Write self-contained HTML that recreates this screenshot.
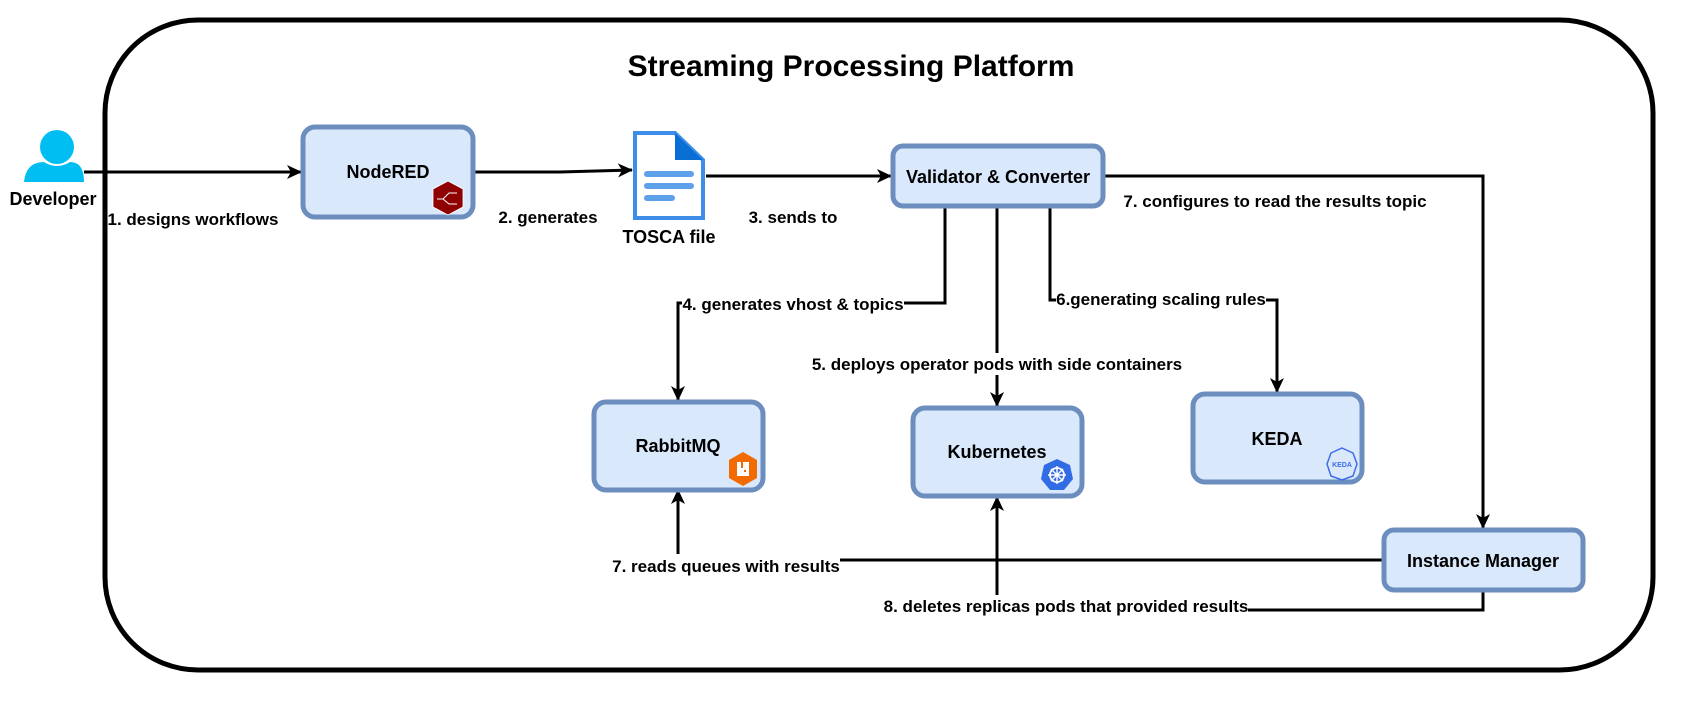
<!DOCTYPE html>
<html><head><meta charset="utf-8"><style>
html,body{margin:0;padding:0;background:#fff;}
svg{display:block;}
text{font-family:"Liberation Sans",Arial,sans-serif;font-weight:bold;fill:#000;}
.lbl{font-size:17px;}
.box{fill:#dae8fc;stroke:#6c8ebf;stroke-width:5;}
.bt{font-size:18px;}
.ln{fill:none;stroke:#000;stroke-width:3;}
</style></head><body>
<svg width="1691" height="712" viewBox="0 0 1691 712" xmlns="http://www.w3.org/2000/svg">
<defs>
<marker id="a" markerWidth="15" markerHeight="14" refX="14" refY="7" orient="auto" markerUnits="userSpaceOnUse">
<path d="M0,0 L15,7 L0,14 L4,7 Z" fill="#000"/>
</marker>
</defs>
<rect x="105" y="20" width="1548" height="650" rx="93" ry="93" fill="none" stroke="#000" stroke-width="5"/>
<text x="851" y="76" font-size="30" text-anchor="middle">Streaming Processing Platform</text>

<circle cx="57" cy="147" r="17" fill="#00bef2"/>
<path d="M24,182 Q26,162 44,162 Q57,170 70,162 Q84,162 84,182 Z" fill="#00bef2"/>
<text x="53" y="205" font-size="18" text-anchor="middle">Developer</text>

<path class="ln" d="M84,172 L301,172" marker-end="url(#a)"/>
<text class="lbl" x="193" y="225" text-anchor="middle">1. designs workflows</text>
<path class="ln" d="M475,172 L560,172 L632,170" marker-end="url(#a)"/>
<text class="lbl" x="548" y="223" text-anchor="middle">2. generates</text>
<path class="ln" d="M706,176 L891,176" marker-end="url(#a)"/>
<text class="lbl" x="793" y="223" text-anchor="middle">3. sends to</text>
<path class="ln" d="M1104,176 L1483,176 L1483,528" marker-end="url(#a)"/>
<text class="lbl" x="1275" y="207" text-anchor="middle">7. configures to read the results topic</text>
<path class="ln" d="M945,207 L945,303 L678,303 L678,400" marker-end="url(#a)"/>
<rect x="682" y="292" width="222" height="22" fill="#fff"/>
<text class="lbl" x="793" y="310" text-anchor="middle">4. generates vhost &amp; topics</text>
<path class="ln" d="M997,207 L997,406" marker-end="url(#a)"/>
<rect x="812" y="353" width="372" height="22" fill="#fff"/>
<text class="lbl" x="997" y="370" text-anchor="middle">5. deploys operator pods with side containers</text>
<path class="ln" d="M1050,207 L1050,300 L1277,300 L1277,392" marker-end="url(#a)"/>
<rect x="1056" y="289" width="210" height="22" fill="#fff"/>
<text class="lbl" x="1161" y="305" text-anchor="middle">6.generating scaling rules</text>
<path class="ln" d="M1382,560 L678,560 L678,490" marker-end="url(#a)"/>
<rect x="612" y="554" width="228" height="22" fill="#fff"/>
<text class="lbl" x="726" y="572" text-anchor="middle">7. reads queues with results</text>
<path class="ln" d="M1483,592 L1483,610 L997,610 L997,497" marker-end="url(#a)"/>
<rect x="882" y="595" width="366" height="22" fill="#fff"/>
<text class="lbl" x="1066" y="612" text-anchor="middle">8. deletes replicas pods that provided results</text>

<rect class="box" x="303" y="127" width="170" height="90" rx="12"/>
<text class="bt" x="388" y="178" text-anchor="middle">NodeRED</text>
<polygon points="448,181 463,189 463,207 448,215 433,207 433,189" fill="#8f0000" stroke="#fff" stroke-width="0.8"/>
<path d="M437,199 h6 l6,-6 h8 M443,199 l6,5 h8" stroke="#fff" stroke-width="1" fill="none"/>

<path d="M635,133 L675,133 L703,160 L703,218 L635,218 Z" fill="#fff" stroke="#3d8ee8" stroke-width="4"/>
<path d="M675,133 L703,160 L675,160 Z" fill="#0a6fd4"/>
<rect x="644" y="171" width="50" height="6" rx="3" fill="#5fa0ea"/>
<rect x="644" y="183" width="50" height="6" rx="3" fill="#5fa0ea"/>
<rect x="644" y="195" width="31" height="6" rx="3" fill="#5fa0ea"/>
<text x="669" y="243" font-size="18" text-anchor="middle">TOSCA file</text>

<rect class="box" x="893" y="146" width="210" height="60" rx="10"/>
<text class="bt" x="998" y="183" text-anchor="middle">Validator &amp; Converter</text>

<rect class="box" x="594" y="402" width="169" height="88" rx="12"/>
<text class="bt" x="678" y="452" text-anchor="middle">RabbitMQ</text>
<polygon points="743,452 757,460 757,478 743,486 729,478 729,460" fill="#f26b00"/>
<rect x="737" y="462" width="12" height="14" fill="#fff"/><rect x="741" y="462" width="2" height="6" fill="#f26b00"/><rect x="744" y="470" width="2" height="2" fill="#f26b00"/>

<rect class="box" x="913" y="408" width="169" height="88" rx="12"/>
<text class="bt" x="997" y="458" text-anchor="middle">Kubernetes</text>
<polygon points="1057,459 1070,465 1073,479 1064,490 1050,490 1041,479 1044,465" fill="#326ce5"/>
<circle cx="1057" cy="475" r="7" fill="none" stroke="#fff" stroke-width="1.8"/>
<path d="M1057,466 v18 M1048,475 h18 M1051,469 l12,12 M1063,469 l-12,12" stroke="#fff" stroke-width="1.4"/>

<rect class="box" x="1193" y="394" width="169" height="88" rx="12"/>
<text class="bt" x="1277" y="445" text-anchor="middle">KEDA</text>
<polygon points="1342,448 1353,453 1357,464 1353,476 1342,480 1331,476 1327,464 1331,453" fill="none" stroke="#3d6ee8" stroke-width="1.5"/>
<text x="1342" y="467" font-size="7" text-anchor="middle" style="fill:#3d6ee8">KEDA</text>

<rect class="box" x="1384" y="530" width="199" height="60" rx="10"/>
<text class="bt" x="1483" y="567" text-anchor="middle">Instance Manager</text>
</svg>
</body></html>
